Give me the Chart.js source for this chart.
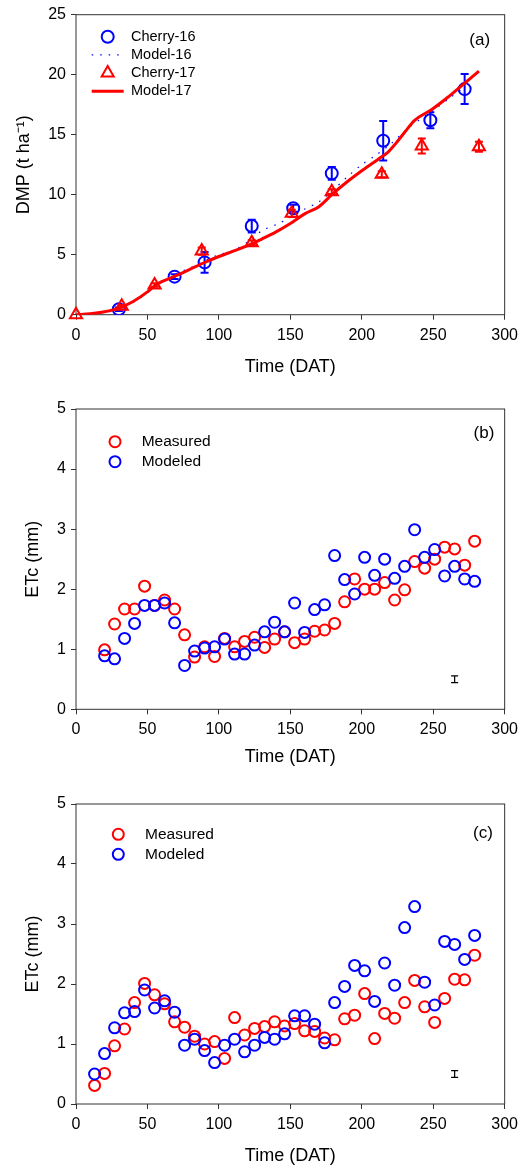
<!DOCTYPE html>
<html>
<head>
<meta charset="utf-8">
<script src="https://cdn.jsdelivr.net/npm/chart.js@4.4.0/dist/chart.umd.min.js"></script>
<style>
  html, body { margin: 0; padding: 0; background: #fff; }
  .panel { position: absolute; left: 0; width: 524px; }
  #panelA { top: 0; height: 390px; }
  #panelB { top: 390px; height: 390px; }
  #panelC { top: 780px; height: 389px; }
</style>
</head>
<body>
<div class="panel" id="panelA"><canvas id="dmpChart"></canvas></div>
<div class="panel" id="panelB"><canvas id="etcChartB"></canvas></div>
<div class="panel" id="panelC"><canvas id="etcChartC"></canvas></div>

<script>
// (a) dry matter production, t/ha
const dmpDays16 = [30, 69, 90, 123, 152, 179, 215, 248, 272];
const dmp16 = [0.45, 3.17, 4.36, 7.39, 8.87, 11.78, 14.5, 16.2, 18.8];
const dmpErr16 = [0.15, 0.2, 0.86, 0.53, 0.3, 0.53, 1.64, 0.67, 1.25];

const dmpDays17 = [0, 32, 55, 88, 123, 151, 179, 214, 242, 282];
const dmp17 = [0, 0.7, 2.47, 5.3, 6.0, 8.45, 10.25, 11.7, 14.06, 14.0];
const dmpErr17 = [0, 0.1, 0.15, 0.3, 0.2, 0.3, 0.2, 0.25, 0.63, 0.42];

const modelDays16 = [0, 20, 30, 45, 55, 70, 80, 90, 100, 111, 123, 130, 140, 150, 160, 170, 180, 190, 200, 210, 220, 234, 245, 252, 262, 272];
const model16 = [0, 0.2, 0.45, 1.4, 2.3, 3.4, 3.9, 4.5, 5.0, 5.4, 6.3, 7.0, 7.5, 8.1, 8.8, 9.4, 10.4, 11.5, 12.5, 13.3, 14.2, 15.7, 16.6, 17.2, 18.1, 19.0];

const modelDays17 = [0, 10, 20, 30, 40, 50, 55, 60, 70, 80, 90, 100, 110, 123, 130, 140, 150, 160, 170, 179, 190, 200, 212, 218, 224, 230, 237, 249, 260, 270, 282];
const model17 = [0, 0.08, 0.25, 0.55, 1.1, 1.9, 2.4, 2.75, 3.25, 3.8, 4.35, 4.85, 5.3, 5.9, 6.3, 6.9, 7.6, 8.4, 9.0, 10.0, 11.1, 12.0, 13.0, 13.5, 14.3, 15.2, 16.2, 17.1, 18.1, 19.1, 20.3];

// (b) crop evapotranspiration, mm/day
const etcDaysB = [20, 27, 34, 41, 48, 55, 62, 69, 76, 83, 90, 97, 104, 111, 118, 125, 132, 139, 146, 153, 160, 167, 174, 181, 188, 195, 202, 209, 216, 223, 230, 237, 244, 251, 258, 265, 272, 279];
const measuredB = [0.99, 1.42, 1.67, 1.67, 2.05, 1.73, 1.82, 1.67, 1.24, 0.87, 1.04, 0.88, 1.18, 1.04, 1.13, 1.2, 1.03, 1.17, 1.29, 1.11, 1.17, 1.3, 1.32, 1.43, 1.79, 2.17, 2.0, 2.0, 2.11, 1.82, 1.99, 2.46, 2.35, 2.5, 2.7, 2.67, 2.4, 2.8];
const modeledB = [0.89, 0.84, 1.18, 1.43, 1.73, 1.73, 1.77, 1.44, 0.73, 0.97, 1.02, 1.04, 1.17, 0.92, 0.92, 1.07, 1.29, 1.45, 1.29, 1.77, 1.28, 1.66, 1.74, 2.56, 2.16, 1.92, 2.53, 2.23, 2.5, 2.18, 2.38, 2.99, 2.53, 2.66, 2.22, 2.38, 2.17, 2.13];

// (c) crop evapotranspiration, mm/day
const etcDaysC = [13, 20, 27, 34, 41, 48, 55, 62, 69, 76, 83, 90, 97, 104, 111, 118, 125, 132, 139, 146, 153, 160, 167, 174, 181, 188, 195, 202, 209, 216, 223, 230, 237, 244, 251, 258, 265, 272, 279];
const measuredC = [0.31, 0.51, 0.97, 1.25, 1.69, 2.01, 1.82, 1.67, 1.37, 1.28, 1.13, 1.0, 1.04, 0.76, 1.44, 1.15, 1.26, 1.29, 1.37, 1.3, 1.34, 1.22, 1.21, 1.1, 1.07, 1.42, 1.48, 1.84, 1.09, 1.51, 1.43, 1.69, 2.06, 1.62, 1.36, 1.76, 2.08, 2.07, 2.48];
const modeledC = [0.5, 0.84, 1.27, 1.52, 1.54, 1.9, 1.6, 1.72, 1.53, 0.98, 1.08, 0.89, 0.69, 0.98, 1.08, 0.87, 0.98, 1.11, 1.08, 1.17, 1.47, 1.47, 1.33, 1.02, 1.69, 1.96, 2.31, 2.22, 1.71, 2.35, 1.98, 2.94, 3.29, 2.03, 1.65, 2.71, 2.66, 2.41, 2.81];

// representative error bar shown in the lower right of (b) and (c)
const seDay = [265];
const seLevel = [0.5];
const seHalf = [0.055];

const RED = '#ff0000';
const BLUE = '#0000ff';

Chart.defaults.font.family = '"Liberation Sans", Arial, sans-serif';
Chart.defaults.color = '#000';

function points(xs, ys) {
    return xs.map((x, i) => ({ x: x, y: ys[i] }));
}

// vertical error bars with caps, drawn right after their own dataset
const errorBars = {
    id: 'errorBars',
    afterDatasetDraw(chart, args) {
        const ds = chart.data.datasets[args.index];
        if (!ds.errors) return;
        const ctx = chart.ctx;
        const yScale = chart.scales.y;
        ctx.save();
        ctx.strokeStyle = ds.errorColor || ds.borderColor;
        ctx.lineWidth = ds.errorWidth || 2;
        const cap = ds.capHalf || 4;
        args.meta.data.forEach((pt, i) => {
            const e = ds.errors[i];
            if (!e) return;
            const v = ds.data[i].y;
            const top = yScale.getPixelForValue(v + e);
            const bot = yScale.getPixelForValue(v - e);
            ctx.beginPath();
            ctx.moveTo(pt.x, top); ctx.lineTo(pt.x, bot);
            ctx.moveTo(pt.x - cap, top); ctx.lineTo(pt.x + cap, top);
            ctx.moveTo(pt.x - cap, bot); ctx.lineTo(pt.x + cap, bot);
            ctx.stroke();
        });
        ctx.restore();
    }
};

// closed box around the plot area
const frame = {
    id: 'frame',
    beforeDatasetsDraw(chart) {
        const a = chart.chartArea;
        const ctx = chart.ctx;
        ctx.save();
        ctx.strokeStyle = '#333';
        ctx.lineWidth = 1;
        ctx.strokeRect(a.left, a.top, a.right - a.left, a.bottom - a.top);
        ctx.restore();
    }
};

function drawSymbol(ctx, ds, x, y) {
    ctx.save();
    ctx.strokeStyle = ds.borderColor;
    if (ds.showLine) {
        ctx.lineWidth = ds.borderWidth;
        ctx.setLineDash(ds.borderDash || []);
        ctx.beginPath();
        ctx.moveTo(x - 16, y); ctx.lineTo(x + 16, y);
        ctx.stroke();
    } else {
        ctx.lineWidth = ds.pointBorderWidth;
        const r = ds.pointRadius;
        ctx.beginPath();
        if (ds.pointStyle === 'triangle') {
            ctx.moveTo(x, y - r);
            ctx.lineTo(x + r * 0.866, y + r / 2);
            ctx.lineTo(x - r * 0.866, y + r / 2);
            ctx.closePath();
        } else {
            ctx.arc(x, y, r, 0, Math.PI * 2);
        }
        ctx.stroke();
    }
    ctx.restore();
}

// legend and panel letter placed inside the plot area
const insideLegend = {
    id: 'insideLegend',
    afterDraw(chart, args, opts) {
        const a = chart.chartArea;
        const ctx = chart.ctx;
        ctx.save();
        ctx.fillStyle = '#000';
        ctx.textBaseline = 'middle';
        ctx.font = opts.fontSize + 'px "Liberation Sans", Arial, sans-serif';
        let row = 0;
        chart.data.datasets.forEach(ds => {
            if (!ds.label) return;
            const y = a.top + opts.dy + row * opts.gap;
            drawSymbol(ctx, ds, a.left + opts.dx, y);
            ctx.textAlign = 'left';
            ctx.fillText(ds.label, a.left + opts.textDx, y);
            row++;
        });
        ctx.font = opts.tagSize + 'px "Liberation Sans", Arial, sans-serif';
        ctx.textAlign = 'center';
        ctx.fillText(opts.tag, a.right - opts.tagDx, a.top + opts.tagDy);
        ctx.restore();
    }
};

function scales(cfg) {
    return {
        x: {
            type: 'linear', min: 0, max: 300,
            ticks: { stepSize: 50, font: { size: 16 }, padding: 6, maxRotation: 0 },
            grid: { drawOnChartArea: false, tickLength: 5, color: '#333' },
            border: { display: false },
            title: { display: true, text: 'Time (DAT)', font: { size: 18 }, padding: { top: 0, bottom: cfg.xTitlePad } },
            afterFit: s => { s.height = cfg.xHeight; }
        },
        y: {
            type: 'linear', min: 0, max: cfg.yMax,
            ticks: { stepSize: cfg.yStep, font: { size: 16 }, padding: 5 },
            grid: { drawOnChartArea: false, tickLength: 5, color: '#333' },
            border: { display: false },
            title: { display: true, text: cfg.yTitle, font: { size: 18 }, padding: { top: cfg.yTitlePad, bottom: 0 } },
            afterFit: s => { s.width = 76; }
        }
    };
}

function baseOptions(cfg) {
    return {
        responsive: true,
        maintainAspectRatio: false,
        animation: false,
        layout: { padding: { top: cfg.top, right: 17.3, left: 0, bottom: 0 } },
        plugins: {
            legend: { display: false },
            tooltip: { enabled: false },
            insideLegend: cfg.legend
        },
        scales: scales(cfg)
    };
}

// (a) DMP
new Chart(document.getElementById('dmpChart'), {
    type: 'scatter',
    data: {
        datasets: [{
            label: 'Cherry-16',
            data: points(dmpDays16, dmp16),
            errors: dmpErr16,
            pointStyle: 'circle', pointRadius: 6, pointBorderWidth: 2,
            borderColor: BLUE, backgroundColor: 'rgba(0,0,0,0)',
            order: 3
        }, {
            label: 'Model-16',
            data: points(modelDays16, model16),
            showLine: true, pointRadius: 0,
            borderColor: BLUE, borderWidth: 1.2, borderDash: [1.5, 7],
            tension: 0.3,
            order: 2
        }, {
            label: 'Cherry-17',
            data: points(dmpDays17, dmp17),
            errors: dmpErr17,
            pointStyle: 'triangle', pointRadius: 7, pointBorderWidth: 2,
            borderColor: RED, backgroundColor: 'rgba(0,0,0,0)',
            clip: false,
            order: 0
        }, {
            label: 'Model-17',
            data: points(modelDays17, model17),
            showLine: true, pointRadius: 0,
            borderColor: RED, borderWidth: 3,
            cubicInterpolationMode: 'monotone',
            order: 1
        }]
    },
    options: baseOptions({
        top: 14.7, xHeight: 75.3, xTitlePad: 12.2,
        yMax: 25, yStep: 5, yTitle: 'DMP (t ha\u207B\u00B9)', yTitlePad: 13.2,
        legend: { dx: 31.7, dy: 22, gap: 18.2, textDx: 55, fontSize: 14.5, tag: '(a)', tagDx: 25, tagDy: 25.3, tagSize: 17 }
    }),
    plugins: [frame, errorBars, insideLegend]
});

function etcChart(id, days, measured, modeled, cfg) {
    return new Chart(document.getElementById(id), {
        type: 'scatter',
        data: {
            datasets: [{
                label: 'Measured',
                data: points(days, measured),
                pointStyle: 'circle', pointRadius: 5.5, pointBorderWidth: 2,
                borderColor: RED, backgroundColor: 'rgba(0,0,0,0)',
                order: 1
            }, {
                label: 'Modeled',
                data: points(days, modeled),
                pointStyle: 'circle', pointRadius: 5.5, pointBorderWidth: 2,
                borderColor: BLUE, backgroundColor: 'rgba(0,0,0,0)',
                order: 0
            }, {
                data: points(seDay, seLevel),
                errors: seHalf,
                pointRadius: 0,
                borderColor: '#000', errorWidth: 1.2, capHalf: 3.5
            }]
        },
        options: baseOptions(cfg),
        plugins: [frame, errorBars, insideLegend]
    });
}

etcChart('etcChartB', etcDaysB, measuredB, modeledB, {
    top: 19, xHeight: 70.7, xTitlePad: 12.2,
    yMax: 5, yStep: 1, yTitle: 'ETc (mm)', yTitlePad: 21.9,
    legend: { dx: 39, dy: 32.7, gap: 20, textDx: 65.7, fontSize: 15.5, tag: '(b)', tagDx: 20.7, tagDy: 24, tagSize: 17 }
});

etcChart('etcChartC', etcDaysC, measuredC, modeledC, {
    top: 24, xHeight: 65, xTitlePad: 2.5,
    yMax: 5, yStep: 1, yTitle: 'ETc (mm)', yTitlePad: 21.9,
    legend: { dx: 42.3, dy: 30.3, gap: 20, textDx: 69, fontSize: 15.5, tag: '(c)', tagDx: 21.7, tagDy: 29, tagSize: 17 }
});
</script>
</body>
</html>
